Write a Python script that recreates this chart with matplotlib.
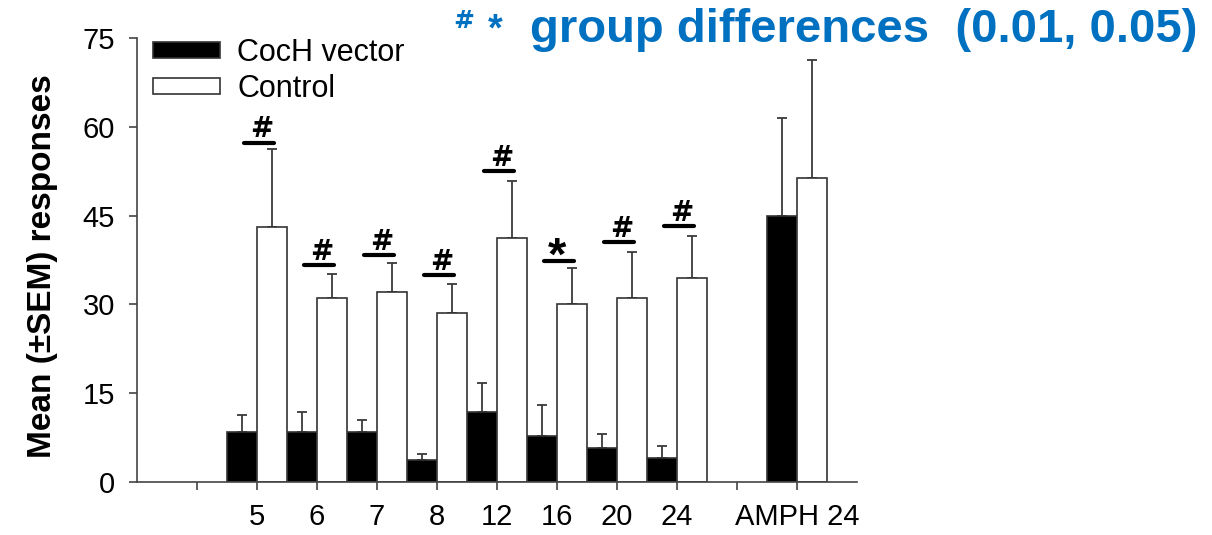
import numpy as np
import matplotlib
matplotlib.use("Agg")
import matplotlib.pyplot as plt
from matplotlib.patches import Patch

plt.rcParams['font.family'] = ['Liberation Sans', 'DejaVu Sans']

nan = np.nan
categories = ["", "5", "6", "7", "8", "12", "16", "20", "24", "", "AMPH 24"]
coch_mean = [nan, 8.4, 8.4, 8.5, 3.7, 11.8, 7.8, 5.7, 4.1, nan, 45.0]
coch_sem = [nan, 3.0, 3.5, 2.0, 1.1, 5.0, 5.2, 2.4, 2.0, nan, 16.5]
ctrl_mean = [nan, 43.1, 31.0, 32.1, 28.5, 41.3, 30.0, 31.0, 34.5, nan, 51.4]
ctrl_sem = [nan, 13.1, 4.1, 4.9, 5.0, 9.6, 6.1, 7.9, 7.1, nan, 19.9]

sig_cats = ["5", "6", "7", "8", "12", "16", "20", "24"]
sig_line_y = [57.3, 36.6, 38.3, 34.9, 52.5, 37.4, 40.5, 43.2]
sig_symbols = ["#", "#", "#", "#", "#", "*", "#", "#"]

yticks = [0, 15, 30, 45, 60, 75]

W, H = 1212, 535
fig = plt.figure(figsize=(W / 100, H / 100), dpi=100)
ax = fig.add_axes([137 / W, 1 - 482 / H, (857 - 137) / W, (482 - 38) / H])

x = np.arange(len(categories))
bw = 0.5
edge = '#333333'
ax.bar(x - bw / 2, coch_mean, width=bw, color='black', edgecolor=edge, linewidth=1.2, zorder=2)
ax.bar(x + bw / 2, ctrl_mean, width=bw, color='white', edgecolor=edge, linewidth=1.2, zorder=2)

cm = np.array(coch_mean); cs = np.array(coch_sem)
wm = np.array(ctrl_mean); ws = np.array(ctrl_sem)
ax.errorbar(x - bw / 2, cm, yerr=[np.zeros_like(cs), cs], fmt='none', ecolor='#3a3a3a',
            elinewidth=1.3, capsize=3.6, capthick=1.3, zorder=1)
ax.errorbar(x + bw / 2, wm, yerr=[np.zeros_like(ws), ws], fmt='none', ecolor='#3a3a3a',
            elinewidth=1.3, capsize=3.6, capthick=1.3, zorder=1)

for cat, ly, sym in zip(sig_cats, sig_line_y, sig_symbols):
    i = categories.index(cat)
    ax.plot([i + 0.03 - 0.25, i + 0.03 + 0.25], [ly, ly], color='black', lw=3.0,
            solid_capstyle='round', zorder=3)
    if sym == "#":
        ax.text(i + 0.08, ly + 0.95, sym, ha='center', va='baseline', fontsize=20,
                fontweight='bold', family='DejaVu Sans', zorder=3)
    else:
        ax.text(i + 0.0, ly - 1.5, sym, ha='center', va='baseline', fontsize=34,
                fontweight='bold', zorder=3)

ax.set_xlim(-1, 11)
ax.set_ylim(0, 75)
ax.set_xticks(x)
ax.set_xticklabels(categories)
ax.set_yticks(yticks)
ax.tick_params(axis='both', direction='out', length=6, width=1.2, color='#444444',
               labelsize=21)
ax.tick_params(axis='x', pad=9)
ax.tick_params(axis='y', pad=10)
for s in ['top', 'right']:
    ax.spines[s].set_visible(False)
for s in ['left', 'bottom']:
    ax.spines[s].set_color('#444444')
    ax.spines[s].set_linewidth(1.2)

handles = [Patch(facecolor='black', edgecolor=edge, linewidth=1.2, label='CocH vector'),
           Patch(facecolor='white', edgecolor=edge, linewidth=1.2, label='Control')]
fig.legend(handles=handles, loc='upper left', bbox_to_anchor=(153 / W, 1 - 38 / H),
           frameon=False, fontsize=22, handlelength=2.2, handleheight=0.4,
           handletextpad=0.55, labelspacing=0.2, borderpad=0, borderaxespad=0)

fig.text(43 / W, 1 - 266 / H, "Mean (±SEM) responses", rotation=90, ha='center',
         va='center', fontsize=24, fontweight='bold')

blue = '#0070C0'
fig.text(453 / W, 1 - 28.5 / H, "#", ha='left', va='baseline', fontsize=18,
         fontweight='bold', family='DejaVu Sans', color=blue)
fig.text(495 / W, 1 - 40 / H, "*", ha='center', va='baseline', fontsize=27,
         fontweight='bold', color=blue)
fig.text(530 / W, 1 - 42 / H, "group differences  (0.01, 0.05)", ha='left', va='baseline',
         fontsize=34, fontweight='bold', color=blue)

fig.savefig("out.png", dpi=100)
